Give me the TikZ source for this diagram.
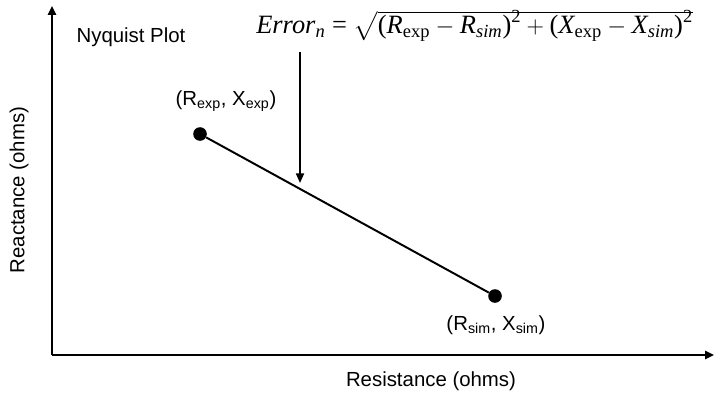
\documentclass[tikz,border=0pt]{standalone}
\usepackage{amsmath}
\usepackage{fontspec}
\setmainfont{Liberation Sans}
\newfontfamily\eqfont{Liberation Serif}
\newcommand\tv[1]{\text{\eqfont\itshape #1}}
\newcommand\tu[1]{\text{\eqfont #1}}
\usetikzlibrary{arrows.meta, positioning, calc}

\begin{document}
\begin{tikzpicture}[x=0.025cm, y=-0.025cm,
        axis/.style={line width=1.4pt, -{Triangle[length=2.2mm, width=2mm]}},
        pt/.style={circle, fill=black, minimum size=3.4mm, inner sep=0pt},
        lbl/.style={font=\fontsize{14.5}{17}\selectfont, inner sep=0pt},
        eqn/.style={font=\fontsize{18.8}{22}\selectfont, inner sep=0pt, anchor=base west}
      ]
        \useasboundingbox (0,0) rectangle (715,394);
        \coordinate (o) at (52,355);
        \coordinate (ytop) at (52,6);
        \coordinate (xend) at (714,355);
        \draw[axis] (o) -- (ytop);
        \draw[axis] (o) -- (xend);
        \node[lbl] (title) at (131,37) {Nyquist Plot};
        \node[lbl, rotate=90] (ylab) at (19,190) {Reactance (ohms)};
        \node[lbl] (xlab) at (431,381) {Resistance (ohms)};
        % measured and simulated points
        \node[pt] (pexp) at (200,134) {};
        \node[pt] (psim) at (495,296) {};
        \draw[line width=1.4pt] (pexp) -- (psim);
        \node[lbl] (lexp) at (226,101) {(R\textsubscript{exp}, X\textsubscript{exp})};
        \node[lbl] (lsim) at (496,325) {(R\textsubscript{sim}, X\textsubscript{sim})};
        % error formula
        \node[eqn] (err) at (256,34) {$\tv{Error}_{\tv{n}} \tu{ = } \sqrt{\vphantom{\tu{(}}\smash{\tu{(}\tv{R}_{\tu{exp}} - \tv{R}_{\tv{sim}}\tu{)}^{\tu{2}} + \tu{(}\tv{X}_{\tu{exp}} - \tv{X}_{\tv{sim}}\tu{)}^{\tu{2}}}}$};
        \coordinate (hit) at (300,183);
        \draw[line width=1.2pt, -{Triangle[length=2.4mm, width=2mm]}] (300,52) -- (hit);
      \end{tikzpicture}
\end{document}
